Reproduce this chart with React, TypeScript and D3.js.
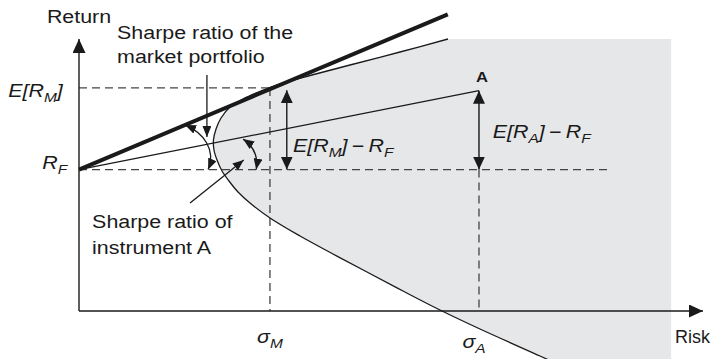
import React from "react";
import * as d3 from "d3";

// chart values, in abstract risk / return units (0..100 on each axis)
const RF = 52;
const ER_M = 82;
const SIGMA_M = 30.6;
const SIGMA_A = 64.1;
const ER_A = 81;
const CML_END = 59.1; // risk where the capital market line stops
const SHADE_RIGHT = 94.9;
const RF_LINE_END = 84.8;

// efficient frontier from top to bottom
const frontierRisk = [59.13, 51.44, 43.43, 37.02, 32.69, 30.61, 28.53, 26.28, 24.2, 22.76, 21.96, 21.55, 21.63, 22.12, 22.92, 24.04, 25.48, 27.4, 30.61, 35.42, 40.71, 46.15, 51.92, 57.85, 64.26, 73.88, 77.08];
const frontierReturn = [100.0, 95.22, 90.44, 86.58, 83.82, 82.17, 80.33, 77.94, 75.0, 70.96, 66.91, 62.87, 59.19, 55.51, 51.47, 47.79, 43.75, 39.71, 34.19, 27.57, 20.96, 14.34, 7.35, 0.37, -6.62, -16.54, -19.85];

// angle arcs (cubic curves) and pointer lines
const marketArc: [number, number][] = [[17.0, 68.4], [20.0, 65.4], [22.0, 59.2], [20.7, RF]];
const instrumentArc: [number, number][] = [[26.3, 63.2], [27.7, 61.0], [28.8, 57.4], [28.4, RF]];
const marketPointer: [number, number][] = [[20.5, 86.8], [20.5, 64.0]];
const instrumentPointer: [number, number][] = [[17.8, 39.7], [26.4, 55.5]];

const W = 716;
const H = 359;

const x = d3.scaleLinear().domain([0, 100]).range([79, 703]);
const y = d3.scaleLinear().domain([0, 100]).range([311, 39]);

const font = "'Liberation Sans', Arial, Helvetica, sans-serif";
const ink = "#1a1a1a";
const dashInk = "#444";
const STRETCH = 1.19; // the lettering in the original is a little wide

type LabelProps = {
  at: [number, number];
  anchor?: "start" | "middle" | "end";
  stretch?: number;
  children: React.ReactNode;
  [k: string]: any;
};

const Label = ({ at, anchor = "start", stretch = STRETCH, children, ...rest }: LabelProps) => (
  <text
    transform={`translate(${x(at[0])},${y(at[1])}) scale(${stretch},1)`}
    textAnchor={anchor}
    {...rest}
  >
    {children}
  </text>
);

const sub = (s: string) => (
  <tspan fontSize={13} dy={5}>
    {s}
  </tspan>
);

export default function App() {
  const frontier = frontierRisk.map((r, i) => [r, frontierReturn[i]] as [number, number]);
  const curve = d3
    .line<[number, number]>()
    .x((d) => x(d[0]))
    .y((d) => y(d[1]))
    .curve(d3.curveCatmullRom.alpha(0.5));
  const frontierPath = curve(frontier) as string;
  const last = frontier[frontier.length - 1];
  const shadePath =
    frontierPath +
    `L${x(SHADE_RIGHT)},${y(last[1])}L${x(SHADE_RIGHT)},${y(frontier[0][1])}Z`;

  const bez = (p: [number, number][]) => {
    const path = d3.path();
    path.moveTo(x(p[0][0]), y(p[0][1]));
    path.bezierCurveTo(x(p[1][0]), y(p[1][1]), x(p[2][0]), y(p[2][1]), x(p[3][0]), y(p[3][1]));
    return path.toString();
  };

  const marker = (id: string, len: number, wid: number) => (
    <marker
      id={id}
      viewBox="0 0 10 10"
      refX={10}
      refY={5}
      markerWidth={len}
      markerHeight={wid}
      markerUnits="userSpaceOnUse"
      orient="auto-start-reverse"
      preserveAspectRatio="none"
    >
      <path d="M0,0L10,5L0,10Z" fill={ink} />
    </marker>
  );

  const cmlSlope = (ER_M - RF) / SIGMA_M * 0.985;

  return (
    <svg
      width={W}
      height={H}
      style={{ position: "absolute", left: 0, top: 0, background: "#fff" }}
      fontFamily={font}
    >
      <defs>
        {marker("axisHead", 14, 13)}
        {marker("bigHead", 13, 12)}
        {marker("smallHead", 11, 9)}
      </defs>

      {/* shaded feasible set */}
      <path d={shadePath} fill="#e6e7e9" stroke="none" />

      {/* dashed guides */}
      <g stroke={dashInk} strokeWidth={1.3} strokeDasharray="8,5" fill="none">
        <line x1={x(0)} x2={x(SIGMA_M)} y1={y(ER_M)} y2={y(ER_M)} />
        <line x1={x(0)} x2={x(RF_LINE_END)} y1={y(RF)} y2={y(RF)} />
        <line x1={x(SIGMA_M)} x2={x(SIGMA_M)} y1={y(ER_M)} y2={y(0)} />
        <line x1={x(SIGMA_A)} x2={x(SIGMA_A)} y1={y(RF)} y2={y(0)} />
      </g>

      {/* frontier, line to A, capital market line */}
      <path d={frontierPath} fill="none" stroke={ink} strokeWidth={1.3} />
      <line x1={x(0)} y1={y(RF)} x2={x(SIGMA_A)} y2={y(ER_A)} stroke={ink} strokeWidth={1.3} />
      <line x1={x(0)} y1={y(RF)} x2={x(CML_END)} y2={y(RF + CML_END * cmlSlope)} stroke={ink} strokeWidth={4} />

      {/* axes */}
      <line x1={x(0)} y1={y(0)} x2={x(0)} y2={y(100)} stroke={ink} strokeWidth={1.4} markerEnd="url(#axisHead)" />
      <line x1={x(0)} y1={y(0)} x2={x(100)} y2={y(0)} stroke={ink} strokeWidth={1.4} markerEnd="url(#axisHead)" />

      {/* excess return double arrows */}
      <line x1={x(33.3)} x2={x(33.3)} y1={y(ER_M - 0.8)} y2={y(RF)} stroke={ink} strokeWidth={1.4} markerStart="url(#bigHead)" markerEnd="url(#bigHead)" />
      <line x1={x(SIGMA_A)} x2={x(SIGMA_A)} y1={y(ER_A)} y2={y(RF)} stroke={ink} strokeWidth={1.4} markerStart="url(#bigHead)" markerEnd="url(#bigHead)" />

      {/* angle arcs and pointers */}
      <path d={bez(marketArc)} fill="none" stroke={ink} strokeWidth={1.3} markerStart="url(#smallHead)" markerEnd="url(#smallHead)" />
      <path d={bez(instrumentArc)} fill="none" stroke={ink} strokeWidth={1.3} markerStart="url(#smallHead)" markerEnd="url(#smallHead)" />
      <line x1={x(marketPointer[0][0])} y1={y(marketPointer[0][1])} x2={x(marketPointer[1][0])} y2={y(marketPointer[1][1])} stroke={ink} strokeWidth={1.3} markerEnd="url(#smallHead)" />
      <line x1={x(instrumentPointer[0][0])} y1={y(instrumentPointer[0][1])} x2={x(instrumentPointer[1][0])} y2={y(instrumentPointer[1][1])} stroke={ink} strokeWidth={1.3} markerEnd="url(#smallHead)" />

      {/* labels */}
      <g fill={ink} fontSize={18}>
        <Label at={[0, 106]} anchor="middle">Return</Label>
        <Label at={[95.5, -11.8]} stretch={1}>Risk</Label>
        <Label at={[6.1, 100]}>Sharpe ratio of the</Label>
        <Label at={[6.1, 91.2]}>market portfolio</Label>
        <Label at={[2.1, 30.5]}>Sharpe ratio of</Label>
        <Label at={[2.1, 21]}>instrument A</Label>
        <Label at={[64.6, 84.2]} anchor="middle" fontSize={14} fontWeight="bold">A</Label>

        <g fontStyle="italic">
          <Label at={[-2.6, 78.7]} anchor="end">
            E[R{sub("M")}<tspan dy={-5}>]</tspan>
          </Label>
          <Label at={[-1.9, 52.2]} anchor="end">
            R{sub("F")}
          </Label>
          <Label at={[34.3, 58.5]}>
            E[R{sub("M")}<tspan dy={-5}>]</tspan>
            <tspan fontStyle="normal">{"\u2009\u2212\u2009"}</tspan>R{sub("F")}
          </Label>
          <Label at={[66.3, 63.6]}>
            E[R{sub("A")}<tspan dy={-5}>]</tspan>
            <tspan fontStyle="normal">{"\u2009\u2212\u2009"}</tspan>R{sub("F")}
          </Label>
          <Label at={[SIGMA_M, -11.8]} anchor="middle">
            σ{sub("M")}
          </Label>
          <Label at={[63.3, -13.6]} anchor="middle">
            σ{sub("A")}
          </Label>
        </g>
      </g>
    </svg>
  );
}
